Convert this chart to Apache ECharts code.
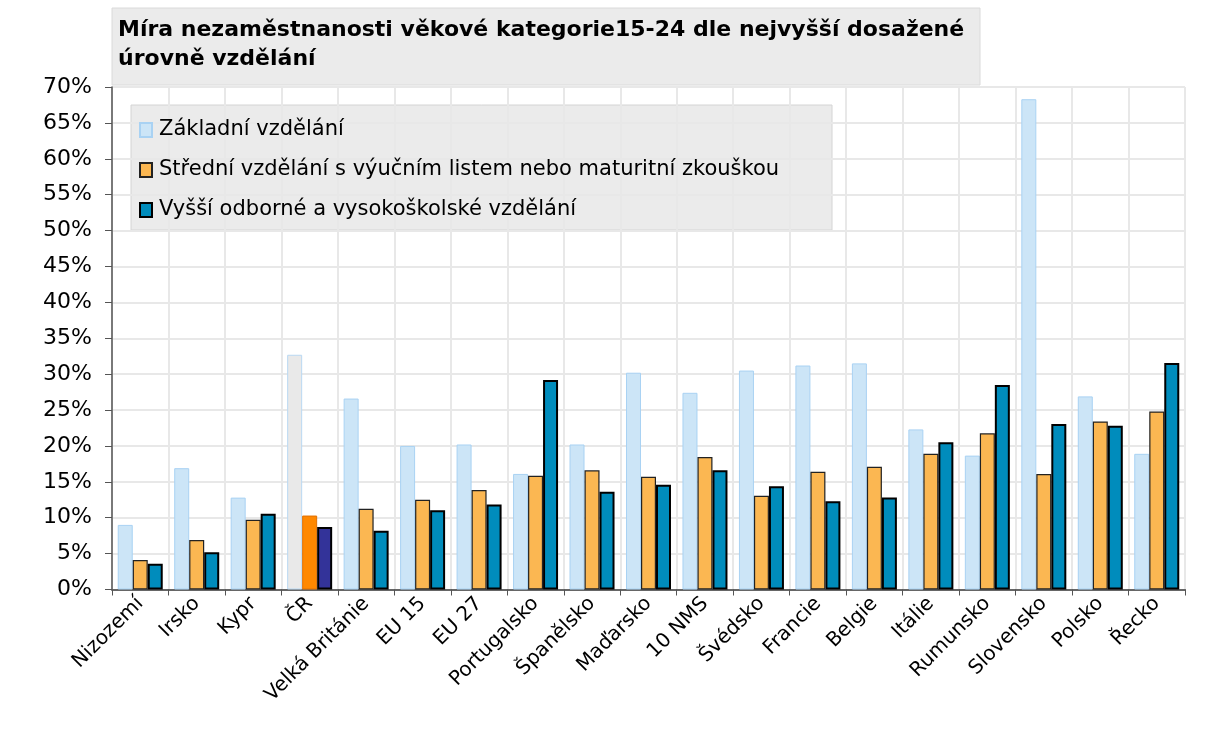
<!DOCTYPE html>
<html>
<head>
<meta charset="utf-8">
<script src="https://cdn.jsdelivr.net/npm/echarts@6/dist/echarts.min.js"></script>
<style>html,body{margin:0;padding:0;background:#fff;}#c{width:1209px;height:731px;}</style>
</head>
<body>
<div id="c"></div>
<script>
const titleText = 'Míra nezaměstnanosti věkové kategorie15-24 dle nejvyšší dosažené\núrovně vzdělání';
const categories = ['Nizozemí','Irsko','Kypr','ČR','Velká Británie','EU 15','EU 27','Portugalsko','Španělsko','Maďarsko','10 NMS','Švédsko','Francie','Belgie','Itálie','Rumunsko','Slovensko','Polsko','Řecko'];
const seriesNames = ['Základní vzdělání','Střední vzdělání s výučním listem nebo maturitní zkouškou','Vyšší odborné a vysokoškolské vzdělání'];
const basic = [9.0,16.9,12.8,32.7,26.6,20.0,20.2,16.1,20.2,30.2,27.4,30.5,31.2,31.5,22.3,18.65,68.3,26.9,18.9];
const secondary = [4.1,6.9,9.7,10.3,11.25,12.5,13.85,15.85,16.6,15.7,18.45,13.05,16.4,17.1,18.9,21.75,16.1,23.4,24.8];
const higher = [3.6,5.2,10.55,8.7,8.2,11.05,11.85,29.2,13.6,14.6,16.6,14.4,12.3,12.8,20.5,28.5,23.05,22.8,31.55];
const yTicks = {min:0, max:70, interval:5};
const highlight = 'ČR';

const FONT = 'DejaVu Sans';
const styles = [
  {color:'#cce5f7', borderColor:'#a9d2f3', borderWidth:1},
  {color:'#fbb752', borderColor:'#222', borderWidth:1.2},
  {color:'#008cbc', borderColor:'#000', borderWidth:2}
];
const hiStyles = [
  {color:'#e9e9e9', borderColor:'#b9d8f2', borderWidth:1},
  {color:'#ff8800', borderColor:'#e07000', borderWidth:1},
  {color:'#333399', borderColor:'#000', borderWidth:2}
];
function build(vals, i){
  return vals.map((v,k)=> categories[k]===highlight ? {value:v, itemStyle:hiStyles[i]} : v);
}
const chart = echarts.init(document.getElementById('c'), null, {renderer:'canvas'});
chart.setOption({
  animation:false,
  backgroundColor:'#fff',
  textStyle:{fontFamily:FONT},
  graphic:[
    {type:'rect', z:0, shape:{x:112, y:8, width:868, height:77}, style:{fill:'#ebebeb', stroke:'#dadada', lineWidth:1}},
    {type:'rect', z:0, shape:{x:131, y:105, width:701, height:125}, style:{fill:'#ebebeb', stroke:'#d4d4d4', lineWidth:1}}
  ],
  title:{
    text:titleText, left:112, top:14, padding:[2,6],
    textStyle:{fontFamily:FONT, fontWeight:'bold', fontSize:22, lineHeight:29, color:'#000'}
  },
  legend:{
    orient:'vertical', left:134, top:114, itemWidth:12, itemHeight:14, itemGap:18,
    data:seriesNames,
    textStyle:{fontFamily:FONT, fontSize:21, color:'#000', lineHeight:22, padding:[0,0,0,2]},
    icon:'rect'
  },
  grid:{left:112, right:24, top:87, bottom:141.5, containLabel:false},
  xAxis:{
    type:'category', data:categories,
    axisLine:{lineStyle:{color:'#666', width:2}},
    axisTick:{show:true, length:6, interval:0, lineStyle:{color:'#555'}},
    splitLine:{show:true, interval:0, lineStyle:{color:'#e8e8e8', width:2}},
    axisLabel:{interval:0, rotate:45, fontSize:20, color:'#000', fontFamily:FONT, margin:11}
  },
  yAxis:{
    type:'value', min:yTicks.min, max:yTicks.max, interval:yTicks.interval,
    axisLine:{show:true, lineStyle:{color:'#555', width:1.5}},
    axisTick:{show:true, length:7, lineStyle:{color:'#555'}},
    splitLine:{show:true, lineStyle:{color:'#e8e8e8', width:2}},
    axisLabel:{formatter:'{value}%', fontSize:22, color:'#000', fontFamily:FONT, margin:20}
  },
  series:[
    {name:seriesNames[0], type:'bar', data:build(basic,0), itemStyle:styles[0], barWidth:15, barGap:'0%'},
    {name:seriesNames[1], type:'bar', data:build(secondary,1), itemStyle:styles[1], barWidth:15, barGap:'0%'},
    {name:seriesNames[2], type:'bar', data:build(higher,2), itemStyle:styles[2], barWidth:15, barGap:'0%'}
  ]
});
</script>
</body>
</html>
